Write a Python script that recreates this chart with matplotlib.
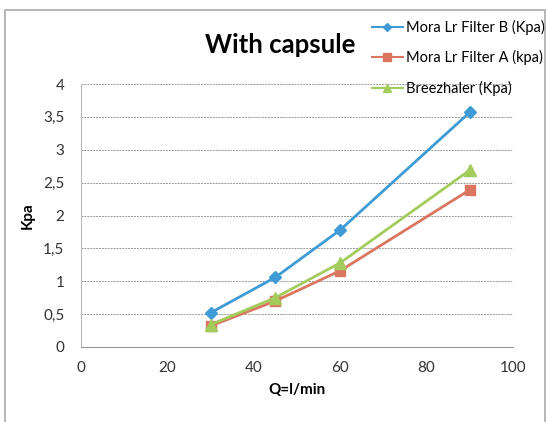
import matplotlib
matplotlib.use("Agg")
import matplotlib.pyplot as plt
from matplotlib.patches import Rectangle

plt.rcParams['font.family'] = ['Lato', 'DejaVu Sans']

flow = [30, 45, 60, 90]
filter_b = [0.52, 1.06, 1.78, 3.57]
filter_a = [0.32, 0.70, 1.16, 2.39]
breezhaler = [0.34, 0.75, 1.28, 2.69]
labels = ["Mora Lr Filter B (Kpa)", "Mora Lr Filter A (kpa)", "Breezhaler (Kpa)"]
yticks = [0, 0.5, 1, 1.5, 2, 2.5, 3, 3.5, 4]
ytick_labels = ["0", "0,5", "1", "1,5", "2", "2,5", "3", "3,5", "4"]
xticks = [0, 20, 40, 60, 80, 100]

fig = plt.figure(figsize=(5.46, 4.22), dpi=100)
ax = fig.add_axes([81/546, 1-347/422, (513-81)/546, (347-84)/422])

c_b = "#3F9BD6"
c_a = "#DA7560"
c_g = "#A3CC5C"

ax.plot(flow, filter_b, color=c_b, marker="D", markersize=6, lw=2, label=labels[0])
ax.plot(flow, filter_a, color=c_a, marker="s", markersize=7, lw=2, label=labels[1])
ax.plot(flow, breezhaler, color=c_g, marker="^", markersize=8, lw=2, label=labels[2])

ax.set_xlim(0, 100)
ax.set_ylim(0, 4)
ax.set_xticks(xticks)
ax.set_yticks(yticks)
ax.set_yticklabels(ytick_labels)
ax.tick_params(length=0, labelsize=11, colors="#333333", pad=12)
ax.tick_params(axis='x', pad=10)
ax.yaxis.grid(True, color="#999999", linestyle=(0, (2, 1)), lw=0.7)
ax.set_axisbelow(True)
for s in ["top", "right"]:
    ax.spines[s].set_visible(False)
ax.spines["left"].set_color("#bbbbbb")
ax.spines["bottom"].set_color("#999999")
ax.spines["left"].set_linestyle((0, (2, 1)))
ax.set_xlabel("Q=l/min", fontsize=11, fontweight="bold", labelpad=6)
ax.set_ylabel("Kpa", fontsize=11, fontweight="bold", labelpad=6)

fig.text(0.513, 1-45/422, "With capsule", ha="center", va="center", fontsize=18.5, fontweight="bold")

leg = fig.legend(loc="upper left", bbox_to_anchor=(372/546, 1-20/422), frameon=False,
                 fontsize=10.5, labelspacing=1.05, handlelength=2.1, handletextpad=0.2,
                 borderpad=0, borderaxespad=0, markerscale=0.75)
for line in leg.get_lines():
    line.set_linewidth(1.5)

fig.patches.append(Rectangle((5/546, -0.1), 1-6/546, 1.1 - 10/422, transform=fig.transFigure,
                             fill=False, edgecolor="#aaaaaa", lw=1.2))

fig.savefig("out.png", dpi=100)
